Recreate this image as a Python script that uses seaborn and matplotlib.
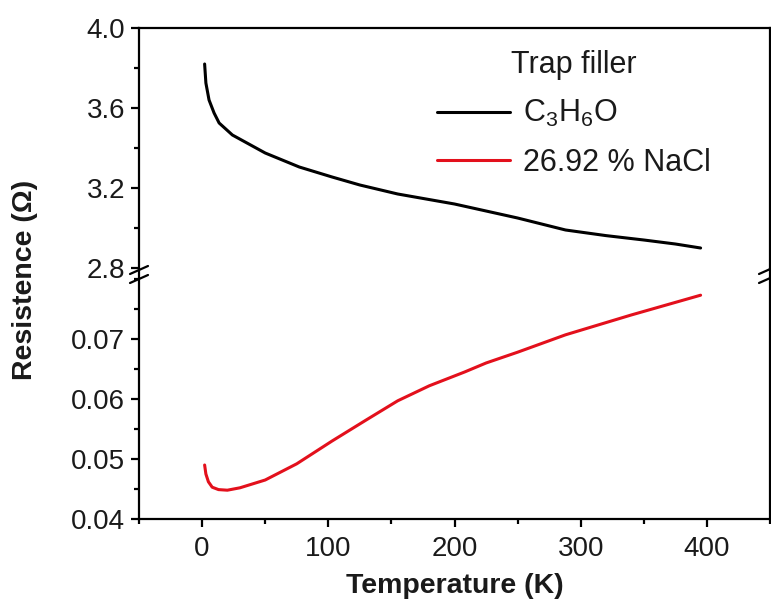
import numpy as np
import pandas as pd
import matplotlib
matplotlib.use("Agg")
import matplotlib.pyplot as plt
import seaborn as sns
from matplotlib.lines import Line2D
from matplotlib.ticker import AutoMinorLocator

# ---- data ----
T_acetone = [2, 3, 5.5, 9.5, 13.5, 24, 50, 77, 103, 125, 155, 182, 200, 225, 250, 288,
             320, 350, 375, 395]
R_acetone = [3.82, 3.725, 3.64, 3.575, 3.525, 3.465, 3.375, 3.305, 3.255, 3.215, 3.17,
             3.14, 3.12, 3.085, 3.05, 2.99, 2.962, 2.94, 2.92, 2.90]

T_nacl = [2, 3, 5, 8, 13, 20, 30, 50, 75, 103, 130, 155, 180, 208, 225, 250, 288, 340, 395]
R_nacl = [0.049, 0.0475, 0.0462, 0.0453, 0.0449, 0.0448, 0.0452, 0.0465, 0.0492, 0.0530,
          0.0565, 0.0597, 0.0622, 0.0645, 0.0660, 0.0678, 0.0707, 0.0740, 0.0773]

series_labels = ["C$_3$H$_6$O", "26.92 % NaCl"]
legend_title = "Trap filler"
x_ticks = [0, 100, 200, 300, 400]
top_ticks = [2.8, 3.2, 3.6, 4.0]
bot_ticks = [0.04, 0.05, 0.06, 0.07]

sns.set_style("ticks")
plt.rcParams['font.family'] = ['Liberation Sans', 'DejaVu Sans']
plt.rcParams['mathtext.fontset'] = 'custom'
plt.rcParams['mathtext.rm'] = 'Liberation Sans'
plt.rcParams['mathtext.it'] = 'Liberation Sans'

TXT = "#1a1a1a"
W, H = 771, 603
fig = plt.figure(figsize=(W / 100, H / 100), dpi=100)

left = 139 / W
right = 770 / W
ax_top = fig.add_axes([left, 1 - 268 / H, right - left, 240 / H])
ax_bot = fig.add_axes([left, 1 - 519 / H, right - left, 240 / H])

df_a = pd.DataFrame({"T": T_acetone, "R": R_acetone})
df_n = pd.DataFrame({"T": T_nacl, "R": R_nacl})

lw = 2.2
red = "#e3101c"
sns.lineplot(data=df_a, x="T", y="R", ax=ax_top, color="black", lw=lw, sort=False)
sns.lineplot(data=df_n, x="T", y="R", ax=ax_bot, color=red, lw=lw, sort=False)

for ax in (ax_top, ax_bot):
    ax.set_xlim(-50, 450)
    ax.set_xlabel("")
    ax.set_ylabel("")
    for s in ax.spines.values():
        s.set_linewidth(1.6)
        s.set_color("black")
    ax.tick_params(axis="both", which="major", direction="out", length=6, width=1.6,
                   labelsize=20, colors="black", labelcolor=TXT, pad=4)
    ax.tick_params(axis="both", which="minor", direction="out", length=3.5, width=1.6,
                   colors="black")
    ax.xaxis.set_minor_locator(AutoMinorLocator(2))
    ax.yaxis.set_minor_locator(AutoMinorLocator(2))

ax_top.set_ylim(2.8, 4.0)
ax_top.set_yticks(top_ticks)
ax_top.spines["bottom"].set_visible(False)
ax_top.tick_params(axis="x", which="both", bottom=False, labelbottom=False)

ax_bot.set_ylim(0.04, 0.08)
ax_bot.set_yticks(bot_ticks)
ax_bot.set_yticklabels([f"{v:.2f}" for v in bot_ticks])
ax_bot.spines["top"].set_visible(False)
ax_bot.set_xticks(x_ticks)
ax_bot.tick_params(axis="x", which="major", pad=6)

fig.text((left + right) / 2, 1 - 586 / H, "Temperature (K)", fontsize=20.5,
         fontweight="bold", ha="center", va="center", color=TXT)
fig.text(25 / W, 1 - 280 / H, "Resistence (Ω)", rotation=90, fontsize=20.5,
         fontweight="bold", ha="center", va="center", color=TXT)

# connect spines through the break
for xx in (left, right):
    fig.add_artist(Line2D([xx, xx], [1 - 268 / H, 1 - 279 / H], color="black", lw=1.6))

# break marks
def brk(xc):
    for yc in (270, 279):
        fig.add_artist(Line2D([(xc - 9) / W, (xc + 9) / W],
                              [1 - (yc + 4) / H, 1 - (yc - 4) / H],
                              color="black", lw=1.6))
brk(139)
brk(768)

handles = [Line2D([], [], color="black", lw=lw), Line2D([], [], color=red, lw=lw)]
leg = ax_top.legend(handles, series_labels, title=legend_title, loc="upper left",
                    bbox_to_anchor=(437 / W, 1 - 50 / H), bbox_transform=fig.transFigure,
                    frameon=False, fontsize=22, title_fontsize=22, handlelength=2.4,
                    handletextpad=0.4, labelspacing=0.6, borderaxespad=0, borderpad=0)
for t in leg.get_texts():
    t.set_color(TXT)
leg.get_title().set_color(TXT)

fig.savefig("out.png", dpi=100)
